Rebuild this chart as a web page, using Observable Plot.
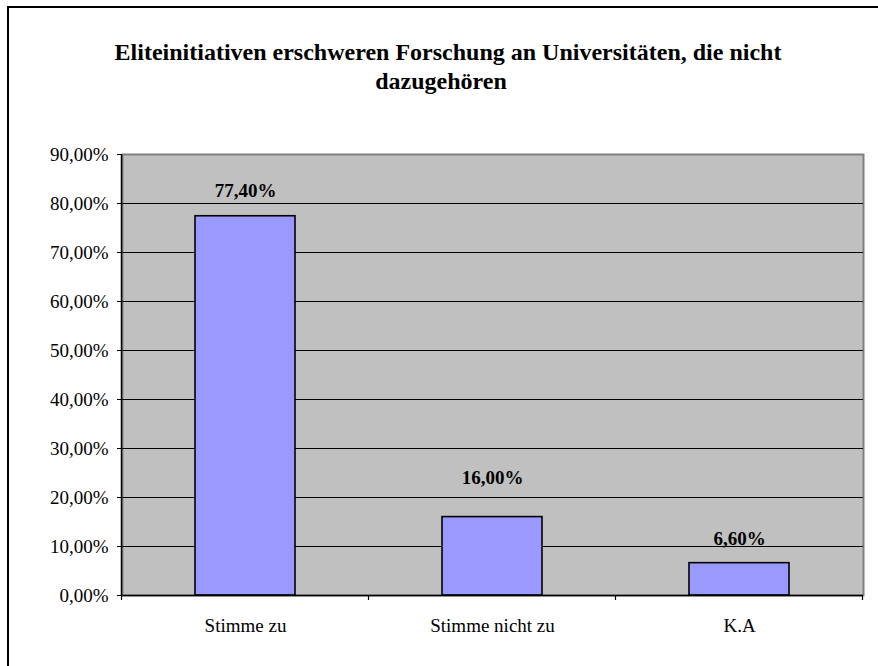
<!DOCTYPE html>
<html>
<head>
<meta charset="utf-8">
<script src="https://cdn.jsdelivr.net/npm/d3@7"></script>
<script src="https://cdn.jsdelivr.net/npm/@observablehq/plot@0.6"></script>
<style>
  html, body { margin: 0; padding: 0; background: #fff; }
  #wrap { position: relative; width: 878px; height: 666px; overflow: hidden; background: #fff; }
  #border { position: absolute; left: 7px; top: 6px; width: 880px; height: 680px; border: 2px solid #000; box-sizing: border-box; }
  .t { position: absolute; font-family: "Liberation Serif", "Times New Roman", serif; font-weight: bold; font-size: 24px; line-height: 30px; white-space: nowrap; color: #000; text-align: center; }
  #chart { position: absolute; left: 0; top: 110px; }
</style>
</head>
<body>
<div id="wrap">
  <div id="border"></div>
  <div class="t" id="t1" style="left:-991px; top:37px; width:2878px;">Eliteinitiativen erschweren Forschung an Universitäten, die nicht</div>
  <div class="t" id="t2" style="left:-998px; top:66px; width:2878px;">dazugehören</div>
  <div id="chart"></div>
</div>
<script>
const categories = ["Stimme zu", "Stimme nicht zu", "K.A"];
const values = [77.4, 16.0, 6.6];
const valueLabels = ["77,40%", "16,00%", "6,60%"];
const yTicks = [0, 10, 20, 30, 40, 50, 60, 70, 80, 90];

const data = categories.map((c, i) => ({cat: c, value: values[i], label: valueLabels[i]}));
const fmt = d => d.toFixed(2).replace(".", ",") + "%";
const font = '"Liberation Serif", "Times New Roman", serif';
const labelLift = [-25, -39, -24];

const plot = Plot.plot({
  width: 878,
  height: 556,
  marginLeft: 122,
  marginRight: 15,
  marginTop: 44,
  marginBottom: 71,
  style: {fontFamily: font, fontSize: "19px", color: "#000", background: "transparent"},
  x: {domain: categories, paddingInner: 0.595, paddingOuter: 0.2975, axis: null, label: null},
  y: {domain: [0, 90], axis: null, label: null},
  marks: [
    Plot.frame({fill: "#c0c0c0", stroke: "#808080", strokeWidth: 2}),
    Plot.ruleY(yTicks.filter(t => t > 0 && t < 90), {stroke: "#000", strokeWidth: 1}),
    Plot.barY(data, {x: "cat", y: "value", fill: "#9999ff", stroke: "#000", strokeWidth: 1.6}),
    ...data.map((d, i) => Plot.text([d], {
      x: "cat", y: "value", text: "label", dy: labelLift[i],
      fontWeight: "bold", fontSize: 19, fill: "#000"
    })),
    Plot.ruleY([0], {stroke: "#000", strokeWidth: 1.5}),
    Plot.axisY({ticks: yTicks, tickFormat: fmt, tickSize: 5, tickPadding: 9, fontSize: 19, stroke: "#000", label: null}),
    Plot.axisX({tickSize: 0, tickPadding: 23, fontSize: 19, label: null})
  ]
});

document.getElementById("chart").appendChild(plot);

// left axis line and category boundary ticks, using the library's scales
const xs = plot.scale("x");
const ys = plot.scale("y");
const svg = d3.select(plot);
const y0 = ys.apply(0), yTop = ys.apply(90);
const step = xs.step, bw = xs.bandwidth;
const bounds = categories.map(c => xs.apply(c) - (step - bw) / 2);
bounds.push(bounds[bounds.length - 1] + step);
svg.append("line")
  .attr("x1", bounds[0]).attr("x2", bounds[0])
  .attr("y1", yTop).attr("y2", y0)
  .attr("stroke", "#000").attr("stroke-width", 1.5);
svg.selectAll("line.bt").data(bounds).join("line")
  .attr("class", "bt")
  .attr("x1", d => d).attr("x2", d => d)
  .attr("y1", y0).attr("y2", y0 + 5)
  .attr("stroke", "#000").attr("stroke-width", 1.2);
</script>
</body>
</html>
